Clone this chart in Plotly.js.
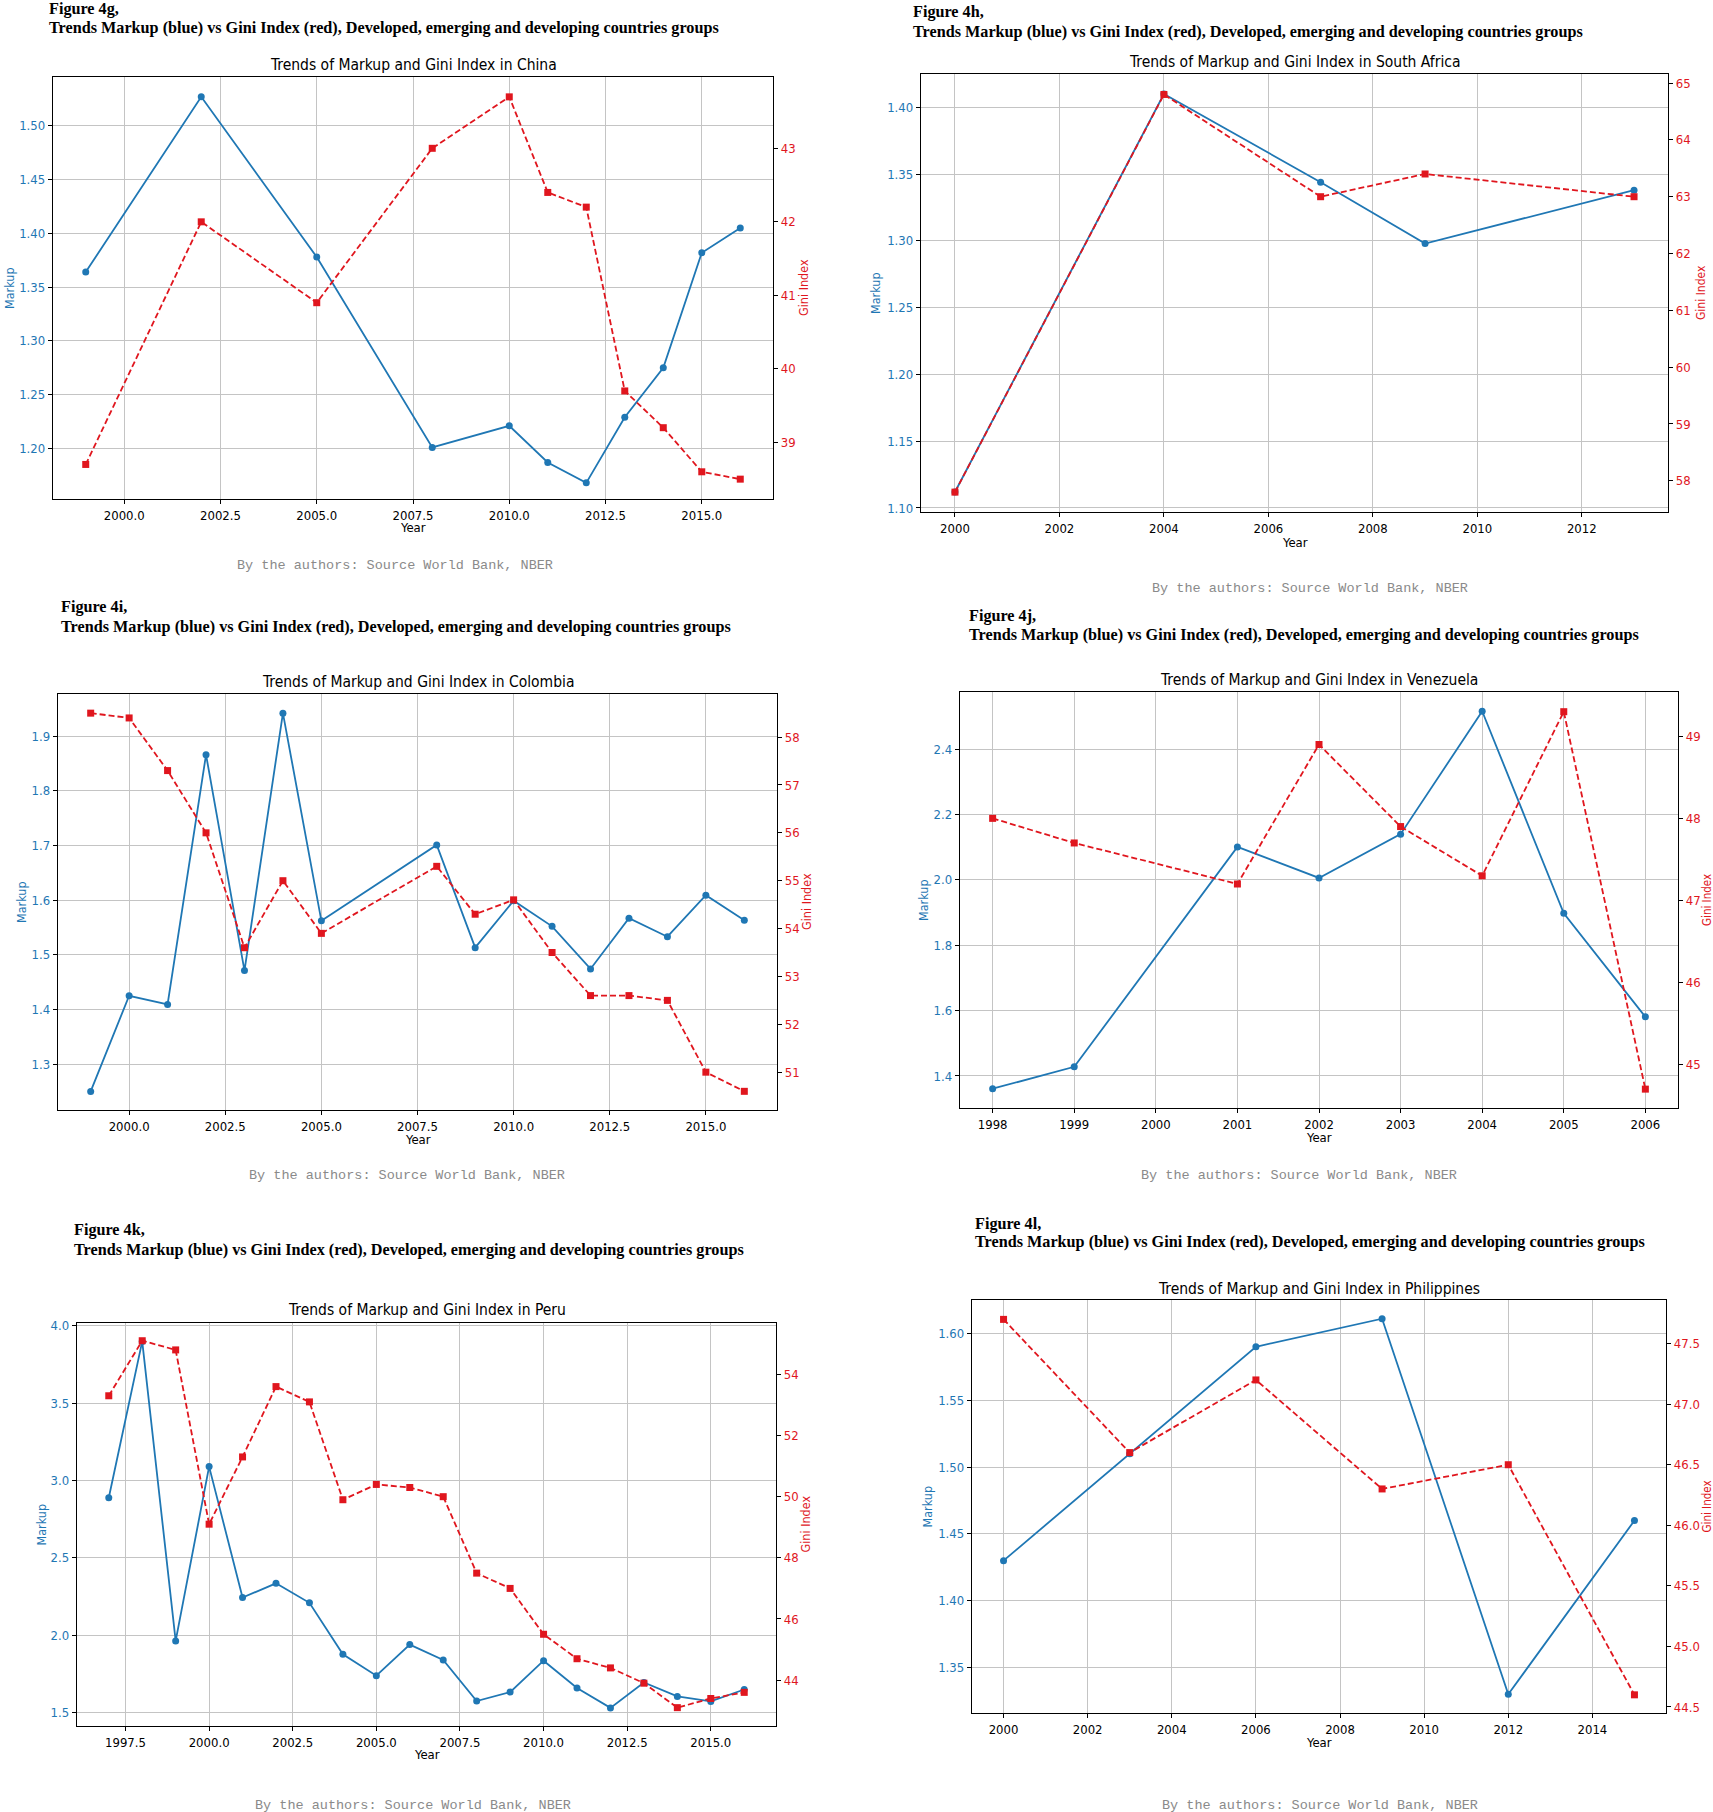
<!DOCTYPE html>
<html>
<head>
<meta charset="utf-8">
<script src="https://cdn.plot.ly/plotly-3.0.1.min.js"></script>
<style>
  html, body { margin: 0; padding: 0; background: #fff; }
  #fig { width: 1713px; height: 1812px; }
</style>
</head>
<body>
<div id="fig"></div>
<script>
// Six twin-axis panels (Markup left/blue, Gini right/red).

const chinaYears = [1999, 2002, 2005, 2008, 2010, 2011, 2012, 2013, 2014, 2015, 2016];
const chinaMarkup = [1.364, 1.527, 1.378, 1.201, 1.221, 1.187, 1.168, 1.229, 1.275, 1.382, 1.405];
const chinaGini = [38.7, 42.0, 40.9, 43.0, 43.7, 42.4, 42.2, 39.7, 39.2, 38.6, 38.5];

const safricaYears = [2000, 2004, 2007, 2009, 2013];
const safricaMarkup = [1.112, 1.410, 1.344, 1.298, 1.338];
const safricaGini = [57.8, 64.8, 63.0, 63.4, 63.0];

const colombiaYears = [1999, 2000, 2001, 2002, 2003, 2004, 2005, 2008, 2009, 2010, 2011, 2012, 2013, 2014, 2015, 2016];
const colombiaMarkup = [1.250, 1.425, 1.409, 1.866, 1.471, 1.942, 1.562, 1.701, 1.513, 1.599, 1.552, 1.474, 1.567, 1.533, 1.609, 1.563];
const colombiaGini = [58.5, 58.4, 57.3, 56.0, 53.6, 55.0, 53.9, 55.3, 54.3, 54.6, 53.5, 52.6, 52.6, 52.5, 51.0, 50.6];

const venezuelaYears = [1998, 1999, 2001, 2002, 2003, 2004, 2005, 2006];
const venezuelaMarkup = [1.361, 1.428, 2.101, 2.006, 2.140, 2.516, 1.898, 1.581];
const venezuelaGini = [48.0, 47.7, 47.2, 48.9, 47.9, 47.3, 49.3, 44.7];

const peruYears = [1997, 1998, 1999, 2000, 2001, 2002, 2003, 2004, 2005, 2006, 2007, 2008, 2009, 2010, 2011, 2012, 2013, 2014, 2015, 2016];
const peruMarkup = [2.888, 3.898, 1.963, 3.089, 2.243, 2.335, 2.209, 1.876, 1.738, 1.939, 1.840, 1.574, 1.632, 1.835, 1.659, 1.530, 1.694, 1.604, 1.572, 1.649];
const peruGini = [53.3, 55.1, 54.8, 49.1, 51.3, 53.6, 53.1, 49.9, 50.4, 50.3, 50.0, 47.5, 47.0, 45.5, 44.7, 44.4, 43.9, 43.1, 43.4, 43.6];

const philippinesYears = [2000, 2003, 2006, 2009, 2012, 2015];
const philippinesMarkup = [1.430, 1.510, 1.590, 1.611, 1.330, 1.460];
const philippinesGini = [47.7, 46.6, 47.2, 46.3, 46.5, 44.6];

const figureLabels = ["Figure 4g,", "Figure 4h,", "Figure 4i,", "Figure 4j,", "Figure 4k,", "Figure 4l,"];
const countries = ["China", "South Africa", "Colombia", "Venezuela", "Peru", "Philippines"];
const figureSubtitle = "Trends Markup (blue) vs Gini Index (red), Developed, emerging and developing countries groups";
const sourceNote = "By the authors: Source World Bank, NBER";

const W = 1713, H = 1812;
const BLUE = "#1f77b4";
const RED = "#e0161e";
const GRID = "#c4c4c4";
const SANS = "'DejaVu Sans Condensed', 'DejaVu Sans', sans-serif";
const SERIF = "'Liberation Serif', 'Times New Roman', serif";
const MONO = "'Liberation Mono', 'Courier New', monospace";

// Panel geometry in page pixels, plus axis ranges / tick steps per panel.
// gs = font size of the right axis title (the right-column ones sit near the page edge).
const panels = [
  { years: chinaYears, markup: chinaMarkup, gini: chinaGini,
    box: [53, 773, 77, 499], head: [47, 9, 28], sub: 65, year: 528, mk: 9, gi: 803, gs: 12.5, src: [395, 566],
    xr: [1998.15, 2016.85], xd: 2.5, xf: ".1f", mr: [1.153, 1.5454], md: 0.05, mf: ".2f", gr: [38.23, 43.97], gd: 1, gf: "d" },
  { years: safricaYears, markup: safricaMarkup, gini: safricaGini,
    box: [921, 1668, 74, 512], head: [911, 12, 32], sub: 62, year: 542, mk: 875, gi: 1701, gs: 12, src: [1310, 588],
    xr: [1999.35, 2013.65], xd: 2, xf: "d", mr: [1.097, 1.425], md: 0.05, mf: ".2f", gr: [57.45, 65.16], gd: 1, gf: "d" },
  { years: colombiaYears, markup: colombiaMarkup, gini: colombiaGini,
    box: [58, 777, 694, 1110], head: [59, 607, 627], sub: 682, year: 1139, mk: 21, gi: 806, gs: 12.5, src: [407, 1175],
    xr: [1998.15, 2016.85], xd: 2.5, xf: ".1f", mr: [1.216, 1.977], md: 0.1, mf: ".1f", gr: [50.21, 58.9], gd: 1, gf: "d" },
  { years: venezuelaYears, markup: venezuelaMarkup, gini: venezuelaGini,
    box: [960, 1678, 692, 1108], head: [967, 616, 635], sub: 680, year: 1137, mk: 923, gi: 1707, gs: 11.5, src: [1299, 1175],
    xr: [1997.6, 2006.4], xd: 1, xf: "d", mr: [1.302, 2.575], md: 0.2, mf: ".1f", gr: [44.47, 49.54], gd: 1, gf: "d" },
  { years: peruYears, markup: peruMarkup, gini: peruGini,
    box: [77, 776, 1323, 1726], head: [72, 1230, 1250], sub: 1310, year: 1754, mk: 41, gi: 805, gs: 12.5, src: [413, 1805],
    xr: [1996.05, 2016.95], xd: 2.5, xf: ".1f", mr: [1.413, 4.017], md: 0.5, mf: ".1f", gr: [42.5, 55.68], gd: 2, gf: "d" },
  { years: philippinesYears, markup: philippinesMarkup, gini: philippinesGini,
    box: [972, 1666, 1300, 1713], head: [973, 1224, 1242], sub: 1289, year: 1742, mk: 927, gi: 1706, gs: 11.5, src: [1320, 1805],
    xr: [1999.25, 2015.75], xd: 2, xf: "d", mr: [1.316, 1.625], md: 0.05, mf: ".2f", gr: [44.45, 47.86], gd: 0.5, gf: ".1f" },
];

const px = (x) => x / W;
const py = (y) => 1 - y / H;

const traces = [];
const layout = {
  width: W, height: H,
  margin: { l: 0, r: 0, t: 0, b: 0 },
  paper_bgcolor: "#fff", plot_bgcolor: "#fff",
  showlegend: false,
  font: { family: SANS, size: 13, color: "#000" },
  annotations: [],
};

function text(x, y, str, font, extra) {
  layout.annotations.push({ xref: "paper", yref: "paper", x: px(x), y: py(y), text: str,
    showarrow: false, font, xanchor: "center", yanchor: "middle", ...extra });
}

panels.forEach((p, i) => {
  const n = i + 1;
  const xa = n === 1 ? "x" : "x" + n;
  const ya = 2 * i + 1, yb = 2 * i + 2;
  const yaName = ya === 1 ? "y" : "y" + ya;
  const [L, R, T, B] = p.box;

  traces.push({ x: p.years, y: p.markup, xaxis: xa, yaxis: yaName, mode: "lines+markers",
    line: { color: BLUE, width: 1.8 }, marker: { color: BLUE, size: 7, symbol: "circle" } });
  traces.push({ x: p.years, y: p.gini, xaxis: xa, yaxis: "y" + yb, mode: "lines+markers",
    line: { color: RED, width: 1.8, dash: "6px,3px" }, marker: { color: RED, size: 7, symbol: "square" } });

  const axisBase = { showline: true, linecolor: "#000", linewidth: 1.2, ticks: "outside", ticklen: 4,
    tickcolor: "#000", zeroline: false };
  layout["xaxis" + (n === 1 ? "" : n)] = { ...axisBase, domain: [px(L), px(R)], anchor: yaName, mirror: true,
    range: p.xr, dtick: p.xd, tick0: 2000, tickformat: p.xf, showgrid: true, gridcolor: GRID, gridwidth: 1,
    tickfont: { family: SANS, size: 13, color: "#000" } };
  layout["yaxis" + (ya === 1 ? "" : ya)] = { ...axisBase, domain: [py(B), py(T)], anchor: xa,
    range: p.mr, dtick: p.md, tick0: 0, tickformat: p.mf, showgrid: true, gridcolor: GRID, gridwidth: 1,
    tickfont: { family: SANS, size: 13, color: BLUE } };
  layout["yaxis" + yb] = { ...axisBase, overlaying: yaName, side: "right", anchor: xa,
    range: p.gr, dtick: p.gd, tick0: 0, tickformat: p.gf, showgrid: false,
    tickfont: { family: SANS, size: 13, color: RED } };

  text(p.head[0], p.head[1], "<b>" + figureLabels[i] + "</b>", { family: SERIF, size: 16.2, color: "#000" }, { xanchor: "left" });
  text(p.head[0], p.head[2], "<b>" + figureSubtitle + "</b>", { family: SERIF, size: 16.2, color: "#000" }, { xanchor: "left" });
  text((L + R) / 2, p.sub, "Trends of Markup and Gini Index in " + countries[i], { family: SANS, size: 15.5, color: "#000" });
  text((L + R) / 2, p.year, "Year", { family: SANS, size: 13, color: "#000" });
  text(p.mk, (T + B) / 2, "Markup", { family: SANS, size: 12.5, color: BLUE }, { textangle: -90 });
  text(p.gi, (T + B) / 2, "Gini Index", { family: SANS, size: p.gs, color: RED }, { textangle: -90 });
  text(p.src[0], p.src[1], sourceNote, { family: MONO, size: 13.5, color: "#8a8a8a" });
});

Plotly.newPlot("fig", traces, layout, { displayModeBar: false, staticPlot: true });
</script>
</body>
</html>
